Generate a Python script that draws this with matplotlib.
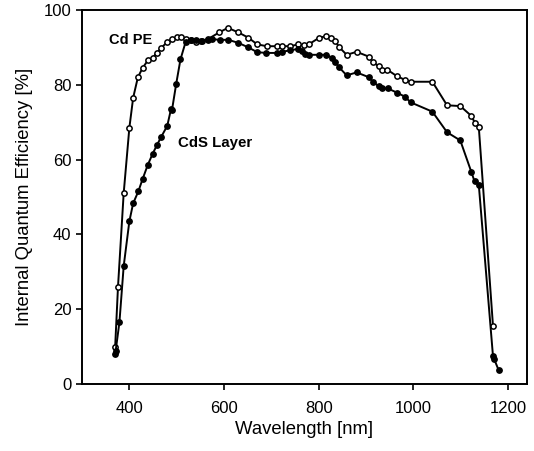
import matplotlib
matplotlib.use("Agg")
import matplotlib.pyplot as plt

# Cd PE (open circles)
wl_pe = [370, 376, 388, 400, 408, 418, 428, 439, 449, 458, 467, 479, 490, 500,
         510, 520, 530, 541, 552, 566, 590, 608, 630, 651, 670, 690, 711, 722,
         740, 757, 768, 779, 800, 816, 825, 835, 842, 859, 880, 906, 915, 927,
         934, 945, 965, 982, 994, 1040, 1071, 1099, 1122, 1130, 1138, 1168]
qe_pe = [10, 26, 51, 68.5, 76.5, 82, 84.5, 86.5, 87.2, 88.5, 89.8, 91.3, 92.2, 92.7,
         92.7, 92.3, 92, 91.3, 91.7, 92.2, 94, 95.2, 94, 92.6, 90.8, 90.3, 90.3, 90.3,
         90.3, 90.8, 90.5, 90.8, 92.5, 93, 92.6, 91.8, 90.2, 88, 88.8, 87.5, 86, 84.9,
         84, 84, 82.3, 81.3, 80.8, 80.8, 74.5, 74.3, 71.7, 69.8, 68.8, 15.6]

# CdS layer (filled circles)
wl_cds = [370, 371, 379, 388, 400, 408, 419, 428, 439, 449, 458, 467, 480, 488,
          490, 499, 508, 519, 530, 540, 553, 566, 574, 591, 609, 630, 651, 670,
          689, 711, 722, 740, 757, 764, 771, 780, 800, 816, 828, 835, 842, 859,
          880, 906, 915, 927, 934, 946, 965, 982, 994, 1040, 1071, 1099, 1122,
          1129, 1138, 1168, 1170, 1180]
qe_cds = [8, 8.8, 16.5, 31.5, 43.5, 48.3, 51.5, 54.8, 58.6, 61.5, 63.8, 66, 69, 73.5,
          73.2, 80.3, 86.8, 91.5, 92, 92, 91.7, 92, 92.2, 92, 92, 91.2, 90, 88.7,
          88.5, 88.5, 88.8, 89.2, 89.6, 89, 88.2, 88, 88, 88, 87.2, 86.2, 84.8, 82.5,
          83.3, 82, 80.7, 79.6, 79, 79, 77.9, 76.8, 75.3, 72.8, 67.3, 65.1, 56.8,
          54.2, 53.3, 7.5, 6.8, 3.7]

plt.rcParams['font.family'] = ['Liberation Sans', 'DejaVu Sans']

fig = plt.figure(figsize=(5.34, 4.51), dpi=100)
ax = fig.add_axes([0.1536, 0.1486, 0.8334, 0.8294])

ax.plot(wl_pe, qe_pe, color='black', lw=1.4, marker='o', ms=3.8,
        mfc='white', mec='black', mew=1.1)
ax.plot(wl_cds, qe_cds, color='black', lw=1.4, marker='o', ms=3.8,
        mfc='black', mec='black', mew=1.1)

ax.text(357, 92, 'Cd PE', fontsize=10.5, fontweight='bold', va='center')
ax.text(502, 64.5, 'CdS Layer', fontsize=10.8, fontweight='bold', va='center')

ax.set_xlim(300, 1240)
ax.set_ylim(0, 100)
ax.set_xticks([400, 600, 800, 1000, 1200])
ax.set_yticks([0, 20, 40, 60, 80, 100])
ax.tick_params(direction='out', length=4, width=1.2, labelsize=12)
ax.tick_params(axis='x', pad=8)
for s in ax.spines.values():
    s.set_linewidth(1.4)

ax.set_xlabel('Wavelength [nm]', fontsize=13.3)
ax.set_ylabel('Internal Quantum Efficiency [%]', fontsize=13.3)
ax.xaxis.set_label_coords(0.5, -0.1)
ax.yaxis.set_label_coords(-0.11, 0.5)

fig.savefig('out.png', dpi=100)
